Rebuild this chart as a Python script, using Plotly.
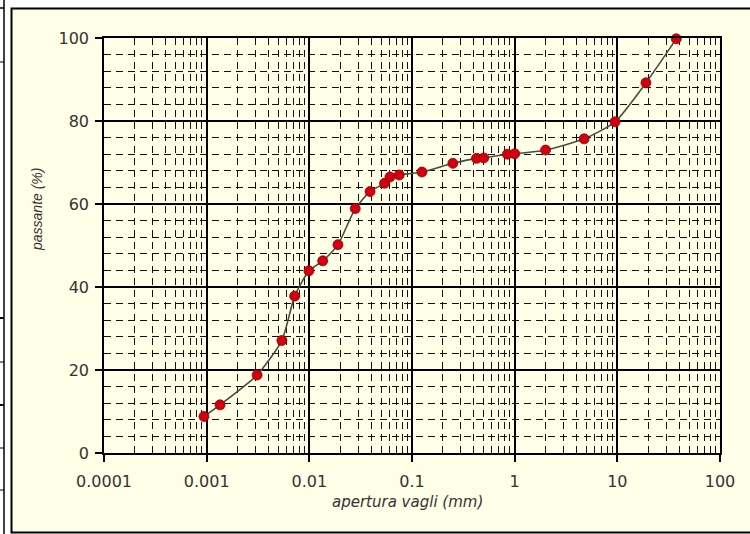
import plotly.graph_objects as go

# Data: sieve opening (mm) and percent passing
apertura = [0.00094, 0.00135, 0.0031, 0.0054, 0.0072, 0.0099, 0.0135, 0.019,
            0.028, 0.039, 0.054, 0.061, 0.075, 0.125, 0.25, 0.425, 0.5,
            0.85, 1.0, 2.0, 4.75, 9.5, 19.0, 37.5]
passante = [8.8, 11.6, 18.8, 27.1, 37.8, 43.9, 46.3, 50.2,
            58.9, 63.0, 65.0, 66.5, 67.0, 67.7, 69.8, 71.0, 71.1,
            72.0, 72.1, 73.0, 75.7, 79.8, 89.2, 99.8]

x_ticks = [0.0001, 0.001, 0.01, 0.1, 1, 10, 100]
x_tick_labels = ["0.0001", "0.001", "0.01", "0.1", "1", "10", "100"]
y_ticks = [0, 20, 40, 60, 80, 100]

CREAM = "#FFFEE6"
W, H = 750, 534
L, R, T, B = 104, 30, 38, 81
pw, ph = W - L - R, H - T - B

def px(x):
    return (x - L) / pw

def py(y):
    return (H - B - y) / ph

fig = go.Figure()
fig.add_trace(go.Scatter(
    x=apertura, y=passante, mode="lines+markers",
    line=dict(color="#43503f", width=1.6, shape="spline", smoothing=0.6),
    marker=dict(color="#D00010", size=10, line=dict(color="#900000", width=0.8)),
    showlegend=False, cliponaxis=False,
))

shapes = [
    # cream frame around chart
    dict(type="rect", xref="paper", yref="paper", x0=px(11.5), x1=px(752), y0=py(532.5), y1=py(8.5),
         fillcolor=CREAM, line=dict(color="black", width=2), layer="below"),
    # left edge fragment of a table
    dict(type="line", xref="paper", yref="paper", x0=px(4), x1=px(4), y0=py(534), y1=py(0),
         line=dict(color="black", width=1.5), layer="below"),
]
for yy, wdt in [(8, 1.5), (62, 1), (318, 2), (362, 1), (405, 2), (448, 1), (490, 1)]:
    shapes.append(dict(type="line", xref="paper", yref="paper", x0=px(0), x1=px(4), y0=py(yy), y1=py(yy),
                       line=dict(color="black", width=wdt), layer="below"))

fig.update_layout(
    width=W, height=H,
    margin=dict(l=L, r=R, t=T, b=B),
    paper_bgcolor="white", plot_bgcolor="rgba(0,0,0,0)",
    font=dict(family="DejaVu Sans, sans-serif", size=16, color="#333333"),
    shapes=shapes,
    annotations=[
        dict(text="<i>apertura vagli (mm)</i>", xref="paper", yref="paper", x=px(407), y=py(502),
             showarrow=False, font=dict(size=15, color="#333333"), xanchor="center", yanchor="middle"),
        dict(text="<i>passante (%)</i>", xref="paper", yref="paper", x=px(37), y=py(210),
             showarrow=False, textangle=-90,
             font=dict(family="Liberation Sans, Arial, sans-serif", size=14, color="#333333"),
             xanchor="center", yanchor="middle"),
    ],
)

fig.update_xaxes(
    type="log", range=[-4, 2],
    tickvals=x_ticks, ticktext=x_tick_labels,
    ticks="outside", ticklen=7, tickcolor="black", tickwidth=1.5, ticklabelstandoff=6,
    showline=True, linecolor="black", linewidth=1.6, mirror=True,
    showgrid=True, gridcolor="black", gridwidth=1.5,
    minor=dict(showgrid=True, dtick="D1", gridcolor="#111111", gridwidth=1.3, griddash="7px,5px"),
    zeroline=False,
)
fig.update_yaxes(
    range=[0, 100], tickvals=y_ticks,
    ticks="outside", ticklen=7, tickcolor="black", tickwidth=1.5, ticklabelstandoff=3,
    showline=True, linecolor="black", linewidth=1.6, mirror=True,
    showgrid=True, gridcolor="black", gridwidth=1.5,
    minor=dict(showgrid=True, dtick=4, gridcolor="#111111", gridwidth=1.3, griddash="7px,5px"),
    zeroline=False,
)

fig.write_html("out.html")
